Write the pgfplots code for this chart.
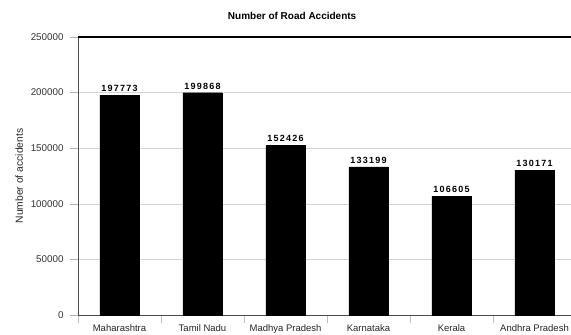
\documentclass[border=0pt]{standalone}
\usepackage{fontspec}
\setmainfont{Liberation Sans}
\usepackage{pgfplots}
\pgfplotsset{compat=1.18}
\begin{document}
\begin{tikzpicture}
\begin{axis}[
  scale only axis,
  width=498pt, height=278pt,
  at={(0,0)}, anchor=south west,
  xmin=-0.5, xmax=5.5,
  ymin=0, ymax=250000,
  ytick={0,50000,100000,150000,200000,250000},
  scaled y ticks=false,
  yticklabel style={/pgf/number format/fixed,/pgf/number format/1000 sep={},font=\fontsize{9.8}{11}\selectfont, text=black!80, xshift=-3pt},
  /pgf/number format/assume math mode=true,
  xtick={0,1,2,3,4,5},
  xticklabels={Maharashtra,Tamil Nadu,Madhya Pradesh,Karnataka,Kerala,Andhra Pradesh},
  xticklabel style={font=\fontsize{9.5}{11}\selectfont, text=black!85, yshift=2pt},
  minor xtick={-0.5,0.5,1.5,2.5,3.5,4.5,5.5},
  major x tick style={draw=none},
  minor x tick style={draw=gray!50, thin},
  minor tick length=8pt,
  ytick style={draw=gray!60, thin},
  major tick length=8pt,
  tick align=outside,
  axis x line*=bottom, axis y line*=left,
  axis line style={draw=black!70, thin, -},
  ymajorgrids,
  grid style={draw=gray!35, thin},
  ylabel={Number of accidents},
  ylabel style={font=\fontsize{10.3}{12}\selectfont, text=black!85},
  ylabel shift=1pt,
  title={\textbf{Number of Road Accidents}},
  title style={font=\fontsize{10}{12}\selectfont, at={(rel axis cs:0.43,1)}, anchor=center, yshift=15pt},
  ybar, bar width=39pt,
  nodes near coords,
  nodes near coords style={font=\fontsize{9}{10}\selectfont\bfseries\addfontfeature{LetterSpace=14}, /pgf/number format/fixed,/pgf/number format/1000 sep={}, yshift=0pt},
  clip=false,
]
\addplot[fill=black, draw=black] coordinates {(0,197773) (1,199868) (2,152426) (3,133199) (4,106605) (5,130171)};
\draw[black, line width=1.3pt] (rel axis cs:0,1) -- (rel axis cs:1,1);
\end{axis}
\pgfresetboundingbox
\path (-78pt,-20pt) rectangle (493pt,315pt);
\end{tikzpicture}
\end{document}
